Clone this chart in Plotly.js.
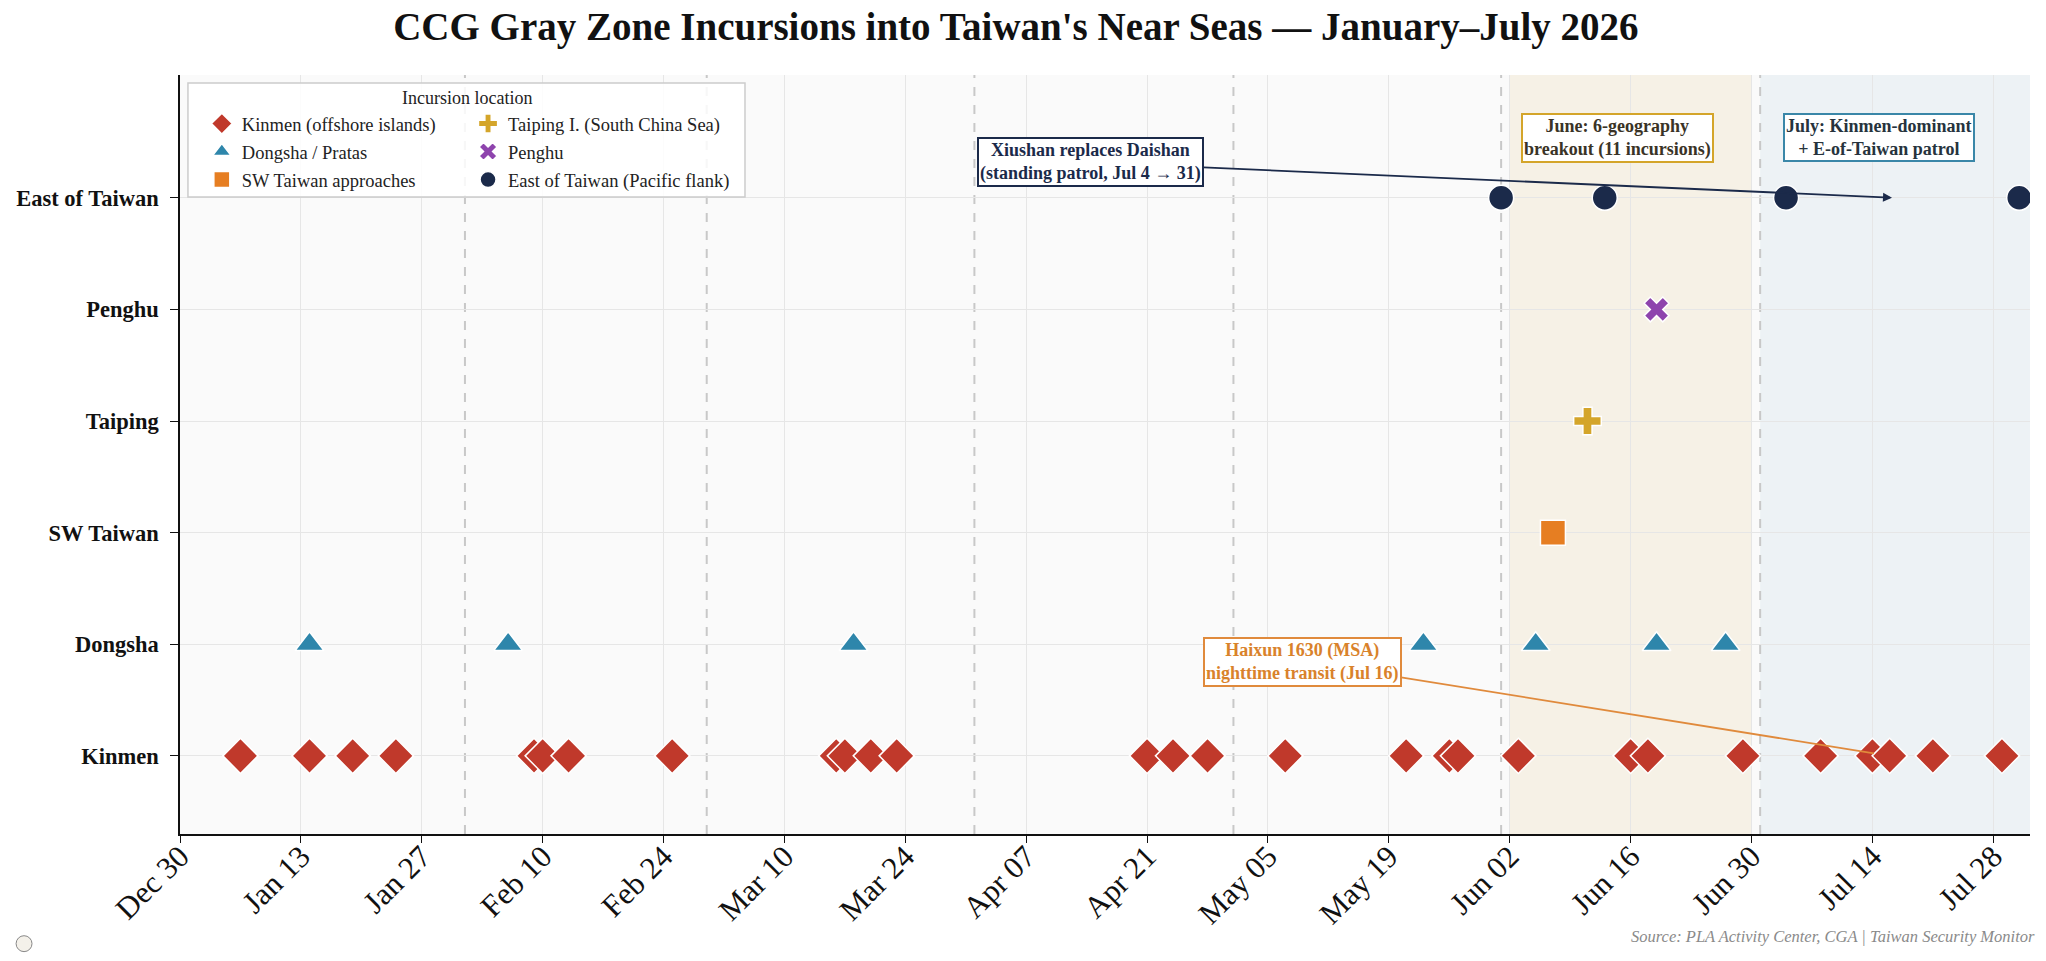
<!DOCTYPE html>
<html>
<head>
<meta charset="utf-8">
<script src="https://cdn.plot.ly/plotly-3.0.1.min.js"></script>
<style>
html,body{margin:0;padding:0;background:#fff;}
#chart{width:2046px;height:961px;}
</style>
</head>
<body>
<div id="chart"></div>
<script>
// ---------------- Data ----------------
const locations = ['Kinmen', 'Dongsha', 'SW Taiwan', 'Taiping', 'Penghu', 'East of Taiwan'];

const kinmenDates = ['2026-01-06','2026-01-14','2026-01-19','2026-01-24',
  '2026-02-09','2026-02-10','2026-02-13','2026-02-25',
  '2026-03-16','2026-03-17','2026-03-20','2026-03-23',
  '2026-04-21','2026-04-24','2026-04-28',
  '2026-05-07','2026-05-21','2026-05-26','2026-05-27',
  '2026-06-03','2026-06-16','2026-06-18','2026-06-29',
  '2026-07-08','2026-07-14','2026-07-16','2026-07-21','2026-07-29'];
const dongshaDates = ['2026-01-14','2026-02-06','2026-03-18','2026-05-23','2026-06-05','2026-06-19','2026-06-27'];
const swTaiwanDates = ['2026-06-07'];
const taipingDates = ['2026-06-11'];
const penghuDates = ['2026-06-19'];
const eastTaiwanDates = ['2026-06-01','2026-06-13','2026-07-04','2026-07-31'];

const legendNames = ['Kinmen (offshore islands)', 'Dongsha / Pratas', 'SW Taiwan approaches',
  'Taiping I. (South China Sea)', 'Penghu', 'East of Taiwan (Pacific flank)'];

const monthStarts = ['2026-02-01','2026-03-01','2026-04-01','2026-05-01','2026-06-01','2026-07-01'];
const juneBand = ['2026-06-02', '2026-06-30'];
const julyBand = ['2026-07-01', '2026-08-01 06:00'];
const xRange = ['2025-12-30', '2026-08-01 06:00'];

// ---------------- Styles ----------------
const FONT = '"Liberation Serif", "Times New Roman", Times, serif';
const colors = {
  kinmen: '#c0392b', dongsha: '#2e86ab', sw: '#e67e22',
  taiping: '#d4a52a', penghu: '#8e44ad', east: '#1b2a4a'
};
const whiteEdge = {color: '#ffffff', width: 1.5};

function pts(dates, loc) { return dates.map(() => loc); }

const traces = [
  {x: kinmenDates, y: pts(kinmenDates, locations[0]), name: legendNames[0], legend: 'legend', legendgroup: 'g0',
   mode: 'markers', type: 'scatter', marker: {symbol: 'diamond', size: 27, color: colors.kinmen, line: whiteEdge}},
  {x: dongshaDates, y: pts(dongshaDates, locations[1]), name: legendNames[1], legend: 'legend', legendgroup: 'g1',
   mode: 'markers', type: 'scatter', marker: {symbol: 'triangle-up', size: 25, color: colors.dongsha, line: whiteEdge}},
  {x: swTaiwanDates, y: pts(swTaiwanDates, locations[2]), name: legendNames[2], legend: 'legend', legendgroup: 'g2',
   mode: 'markers', type: 'scatter', marker: {symbol: 'square', size: 25, color: colors.sw, line: whiteEdge}},
  {x: taipingDates, y: pts(taipingDates, locations[3]), name: legendNames[3], legend: 'legend2', legendgroup: 'g3',
   mode: 'markers', type: 'scatter', marker: {symbol: 'cross', size: 23, color: colors.taiping, line: whiteEdge}},
  {x: penghuDates, y: pts(penghuDates, locations[4]), name: legendNames[4], legend: 'legend2', legendgroup: 'g4',
   mode: 'markers', type: 'scatter', marker: {symbol: 'x', size: 22, color: colors.penghu, line: whiteEdge}},
  {x: eastTaiwanDates, y: pts(eastTaiwanDates, locations[5]), name: legendNames[5], legend: 'legend2', legendgroup: 'g5',
   mode: 'markers', type: 'scatter', marker: {symbol: 'circle', size: 25, color: colors.east, line: whiteEdge}}
];

const shapes = [
  {type: 'rect', xref: 'x', yref: 'paper', x0: juneBand[0], x1: juneBand[1], y0: 0, y1: 1,
   fillcolor: '#f6f1e6', line: {width: 0}, layer: 'below'},
  {type: 'rect', xref: 'x', yref: 'paper', x0: julyBand[0], x1: julyBand[1], y0: 0, y1: 1,
   fillcolor: '#edf2f5', line: {width: 0}, layer: 'below'},
  // legend frame
  {type: 'rect', xref: 'paper', yref: 'paper', x0: 0.0043, x1: 0.3054, y0: 0.8393, y1: 0.9895,
   fillcolor: 'rgba(255,255,255,0.85)', line: {color: '#cccccc', width: 1.5}, layer: 'above'},
  // small emblem
  {type: 'circle', xref: 'paper', yref: 'paper', x0: -0.0886, x1: -0.0800, y0: -0.155, y1: -0.134,
   line: {color: '#888888', width: 1}, fillcolor: '#f4f1ea'}
];
monthStarts.forEach(d => shapes.push({
  type: 'line', xref: 'x', yref: 'paper', x0: d, x1: d, y0: 0, y1: 1,
  line: {color: '#c8c8c8', width: 2, dash: 'dash'}, layer: 'between'
}));

const annoFont = {family: FONT, size: 18, weight: 'bold'};
const annotations = [
  {xref: 'paper', yref: 'paper', x: 0.1549, y: 0.9697, text: 'Incursion location', showarrow: false,
   font: {family: FONT, size: 18, color: '#222'}, xanchor: 'center', yanchor: 'middle'},
  {x: '2026-06-14 12:00', y: 5.54, text: 'June: 6-geography<br>breakout (11 incursions)', showarrow: false,
   font: Object.assign({}, annoFont, {color: '#3a3326'}), bgcolor: '#ffffff', bordercolor: colors.taiping,
   borderwidth: 2, borderpad: 1},
  {x: '2026-07-14 18:00', y: 5.54, text: 'July: Kinmen-dominant<br>+ E-of-Taiwan patrol', showarrow: false,
   font: Object.assign({}, annoFont, {color: '#26333d'}), bgcolor: '#ffffff', bordercolor: '#3a87a8',
   borderwidth: 2, borderpad: 1},
  {x: '2026-07-16 12:00', y: 5, ax: '2026-04-14 12:00', ay: 5.317, axref: 'x', ayref: 'y',
   text: 'Xiushan replaces Daishan<br>(standing patrol, Jul 4 \u2192 31)', showarrow: true,
   arrowhead: 2, arrowsize: 1, arrowwidth: 1.8, arrowcolor: colors.east, standoff: 2,
   font: Object.assign({}, annoFont, {color: colors.east}), bgcolor: '#ffffff', bordercolor: colors.east,
   borderwidth: 2, borderpad: 1},
  {x: '2026-07-16', y: 0, ax: '2026-05-09', ay: 0.845, axref: 'x', ayref: 'y',
   text: 'Haixun 1630 (MSA)<br>nighttime transit (Jul 16)', showarrow: true,
   arrowhead: 0, arrowwidth: 1.8, arrowcolor: '#e08a3c', standoff: 16,
   font: Object.assign({}, annoFont, {color: '#d9822b'}), bgcolor: '#ffffff', bordercolor: '#e08a3c',
   borderwidth: 2, borderpad: 1},
  {xref: 'paper', yref: 'paper', x: 1.0038, y: -0.135, xanchor: 'right', yanchor: 'middle', showarrow: false,
   text: 'Source: PLA Activity Center, CGA | Taiwan Security Monitor',
   font: {family: FONT, size: 16.5, color: '#8a8a8a', style: 'italic'}}
];

const layout = {
  width: 2046, height: 961,
  margin: {l: 180, r: 16, t: 75, b: 127},
  paper_bgcolor: '#ffffff', plot_bgcolor: '#fafafa',
  font: {family: FONT, color: '#111'},
  title: {text: "CCG Gray Zone Incursions into Taiwan's Near Seas \u2014 January\u2013July 2026",
    font: {family: FONT, size: 39, weight: 'bold', color: '#111'}, x: 0.4965, xref: 'container',
    y: 0.973, yref: 'container', yanchor: 'middle'},
  xaxis: {type: 'date', range: xRange, tick0: '2025-12-30', dtick: 14 * 86400000, tickformat: '%b %d',
    tickangle: -45, tickfont: {family: FONT, size: 31, color: '#111'}, showgrid: true, gridcolor: '#e6e6e6',
    gridwidth: 1, zeroline: false, showline: true, linecolor: '#111', linewidth: 1.6, ticks: 'outside',
    ticklen: 7, tickcolor: '#111', mirror: false, ticklabelstandoff: -17},
  yaxis: {type: 'category', categoryorder: 'array', categoryarray: locations, range: [-0.7, 6.1],
    tickfont: {family: FONT, size: 22.5, weight: 'bold', color: '#111'}, showgrid: true, gridcolor: '#e6e6e6',
    gridwidth: 1, zeroline: false, showline: true, linecolor: '#111', linewidth: 1.6, ticks: 'outside',
    ticklen: 8, tickcolor: '#111', ticklabelstandoff: 7, fixedrange: true},
  legend: {x: 0.0118, y: 0.9605, xanchor: 'left', yanchor: 'top', orientation: 'v', bgcolor: 'rgba(0,0,0,0)',
    borderwidth: 0, font: {family: FONT, size: 18.5, color: '#222'}, tracegroupgap: 1},
  legend2: {x: 0.1557, y: 0.9605, xanchor: 'left', yanchor: 'top', orientation: 'v', bgcolor: 'rgba(0,0,0,0)',
    borderwidth: 0, font: {family: FONT, size: 18.5, color: '#222'}, tracegroupgap: 1},
  showlegend: true,
  shapes: shapes,
  annotations: annotations
};

Plotly.newPlot('chart', traces, layout, {displayModeBar: false, responsive: false});
</script>
</body>
</html>
